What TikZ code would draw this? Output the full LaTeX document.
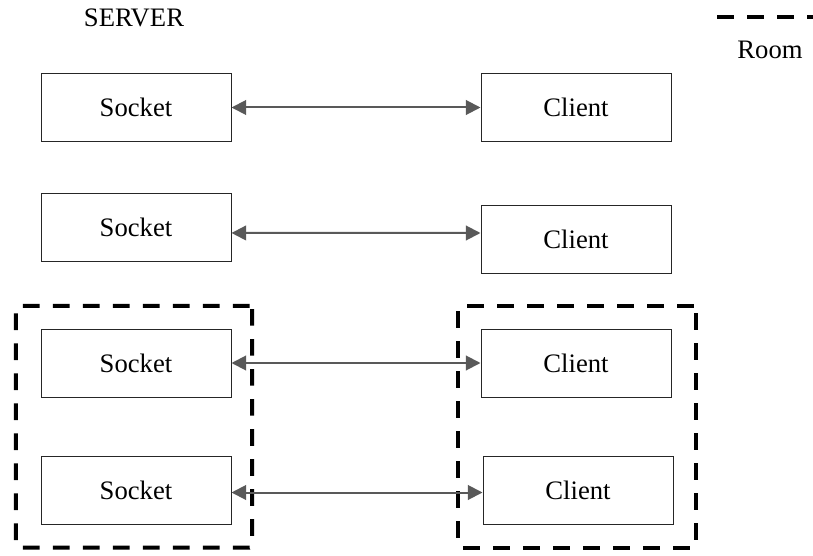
\documentclass[tikz,border=0pt]{standalone}
\usepackage{fontspec}
\setmainfont{Liberation Serif}
\usepackage{tikz}
\usetikzlibrary{arrows.meta,positioning,fit}

\tikzset{
  box/.style={draw=black!85,line width=0.75pt,minimum width=142.5pt,minimum height=51pt,inner sep=0pt,font=\fontsize{20}{24}\selectfont},
  label/.style={font=\fontsize{20}{24}\selectfont},
  link/.style={{Triangle[length=11pt,width=11pt]}-{Triangle[length=11pt,width=11pt]},draw=black!65,fill=black!65,line width=1.5pt},
  room/.style={draw=black,line width=3pt,dash pattern=on 12.5pt off 10pt,rounded corners=2pt}
}

\begin{document}
\begin{tikzpicture}[x=0.75pt,y=-0.75pt]
  \useasboundingbox (0,0) rectangle (813,556);
  \node[label] (server) at (134,18) {SERVER};
  % legend
  \coordinate (legA) at (717,17);
  \coordinate (legB) at (813,17);
  \draw[room,rounded corners=0pt] (legA) -- (legB);
  \node[label] (roomtxt) at (770,50) {Room};
  % sockets and clients
  \node[box] (s1) at (136,107.5) {Socket};
  \node[box] (c1) at (576,107.5) {Client};
  \node[box] (s2) at (136,227.5) {Socket};
  \node[box] (c2) at (576,239) {Client};
  \node[box] (s3) at (136,363) {Socket};
  \node[box] (c3) at (576,363) {Client};
  \node[box] (s4) at (136,490.5) {Socket};
  \node[box] (c4) at (578,490.5) {Client};
  % rooms
  \node[room,fit=(s3)(s4),inner sep=17pt,xshift=-1.5pt] (roomS) {};
  \node[room,fit=(c3)(c4),inner sep=17pt] (roomC) {};
  % connections
  \draw[link] (s1.east) -- (c1.west);
  \draw[link] ([yshift=-4.1pt]s2.east) -- ([yshift=4.5pt]c2.west);
  \draw[link] (s3.east) -- (c3.west);
  \draw[link] ([yshift=-1.5pt]s4.east) -- ([yshift=-1.5pt]c4.west);
\end{tikzpicture}
\end{document}
